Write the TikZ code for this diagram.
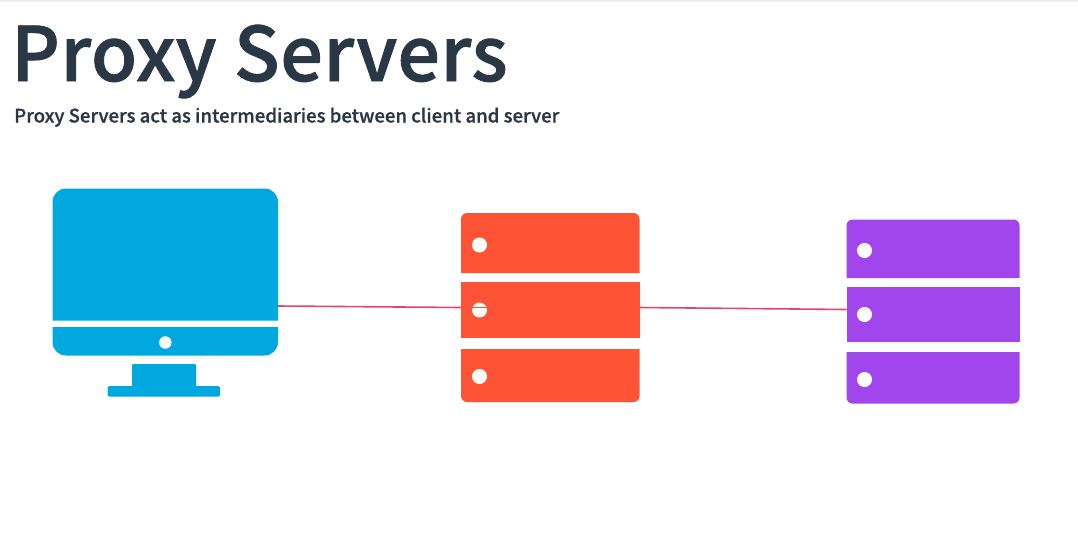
\documentclass[tikz,border=0pt]{standalone}
\usepackage{fontspec}
\setmainfont{Noto Sans CJK SC}
\newfontfamily\medfont{Noto Sans CJK SC Medium}
\newfontfamily\titlefont[LetterSpace=0.9]{Noto Sans CJK SC Medium}
\newcommand{\heavier}[2]{\special{pdf:code 2 Tr #1 w}#2\special{pdf:code 0 Tr 1 w}}
\usetikzlibrary{calc}
\definecolor{ink}{HTML}{2A3845}
\definecolor{clientblue}{HTML}{00A8E0}
\definecolor{proxyred}{HTML}{FF5335}
\definecolor{serverpurple}{HTML}{A046EC}
\definecolor{wire}{HTML}{E2456F}
\tikzset{
  hole/.style={circle,fill=white,draw=none,inner sep=0pt,minimum size=#1},
  wireline/.style={draw=wire,line width=1.6pt},
}
\begin{document}
\begin{tikzpicture}[x=1pt,y=-1pt]
\useasboundingbox (0,0) rectangle (1078,538);
\fill[white] (0,0) rectangle (1078,538);
\fill[black!7] (0,0) rectangle (1078,1.5);
% headings
\node[anchor=base west,inner sep=0pt,text=ink,font=\titlefont\fontsize{75}{75}\selectfont] (title) at (11,81) {\heavier{0.9}{Proxy Servers}};
\node[anchor=base west,inner sep=0pt,text=ink,font=\medfont\fontsize{18.6}{20}\selectfont] (subtitle) at (14,122.5) {\heavier{0.12}{Proxy Servers act as intermediaries between client and server}};
\coordinate (c1) at (278,306);
\coordinate (p1) at (461,307.5);
\coordinate (p2) at (639.5,307.5);
\coordinate (s1) at (846.5,309.5);
% client
\fill[clientblue] (52.5,320.5) -- (52.5,202) arc[start angle=180,end angle=270,radius=13.5] -- (264.5,188.5) arc[start angle=-90,end angle=0,radius=13.5] -- (278,320.5) -- cycle;
\fill[clientblue] (52.5,327) -- (278,327) -- (278,342) arc[start angle=0,end angle=90,radius=13.5] -- (66,355.5) arc[start angle=90,end angle=180,radius=13.5] -- cycle;
\fill[clientblue,rounded corners=1pt] (132,364) rectangle (196,390);
\fill[clientblue,rounded corners=1.5pt] (107.5,386) rectangle (220,396.5);
\node[hole=12.5pt] (cdot) at (165.3,342.5) {};
% proxy
\fill[proxyred] (461,273) -- (461,219) arc[start angle=180,end angle=270,radius=6] -- (633.5,213) arc[start angle=-90,end angle=0,radius=6] -- (639.5,273) -- cycle;
\fill[proxyred] (461,282) rectangle (639.5,338);
\fill[proxyred] (461,349) -- (639.5,349) -- (639.5,396) arc[start angle=0,end angle=90,radius=6] -- (467,402) arc[start angle=90,end angle=180,radius=6] -- cycle;
\node[hole=15pt] (pdota) at (479.5,245) {};
\node[hole=15pt] (pdotb) at (479.5,310) {};
\node[hole=15pt] (pdotc) at (479.5,376.5) {};
% server
\fill[serverpurple] (846.5,278) -- (846.5,225.5) arc[start angle=180,end angle=270,radius=6] -- (1013.5,219.5) arc[start angle=-90,end angle=0,radius=6] -- (1019.5,278) -- cycle;
\fill[serverpurple] (846.5,287) rectangle (1019.5,341.5);
\fill[serverpurple] (846.5,352) -- (1019.5,352) -- (1019.5,397.5) arc[start angle=0,end angle=90,radius=6] -- (852.5,403.5) arc[start angle=90,end angle=180,radius=6] -- cycle;
\node[hole=15pt] (sdota) at (864.5,250.5) {};
\node[hole=15pt] (sdotb) at (864.5,314.5) {};
\node[hole=15pt] (sdotc) at (864.5,379.5) {};
% connectors
\draw[wireline] (c1) -- (p1);
\draw[draw=proxyred,line width=1.6pt] (p1) -- ($(pdotb.east)+(0,-2.5)$);
\draw[wireline] (p2) -- (s1);
\end{tikzpicture}
\end{document}
